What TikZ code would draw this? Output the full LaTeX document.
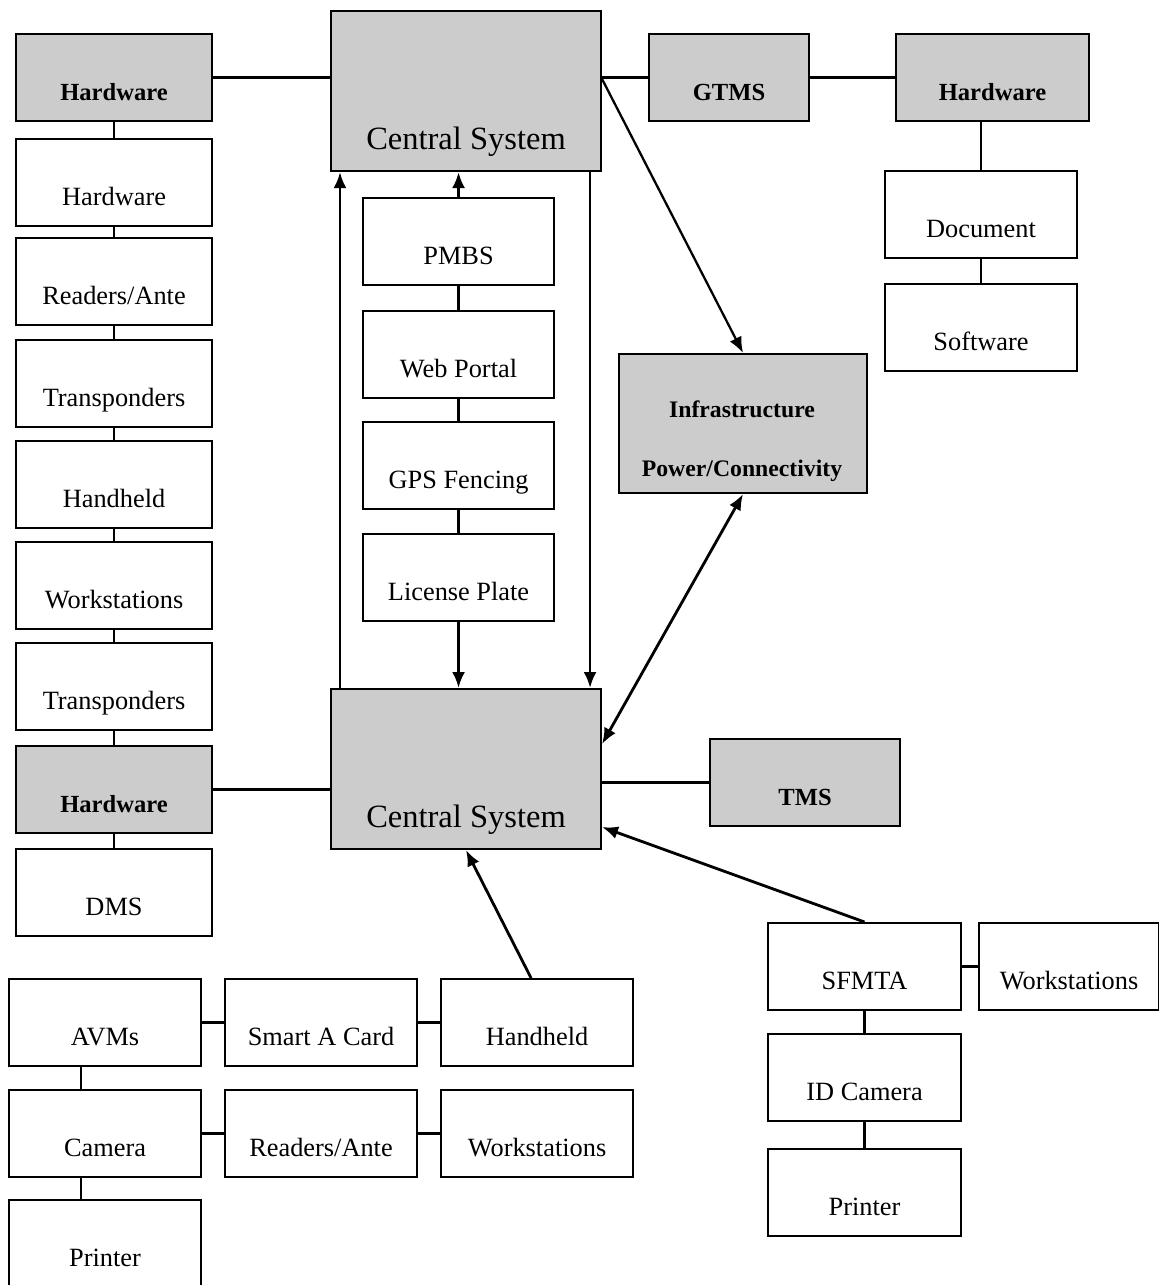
\documentclass[tikz,border=0pt]{standalone}
\usepackage{fontspec}
\setmainfont{Liberation Serif}
\usetikzlibrary{arrows.meta}

\begin{document}
\begin{tikzpicture}[x=0.02cm, y=-0.02cm]
  \tikzstyle{box}=[draw, line width=1.2pt, fill=white, anchor=north west, inner sep=0pt, text height=1.32cm, text depth=0.42cm, font=\fontsize{15}{18}\selectfont]
  \tikzstyle{grey}=[fill=black!20, font=\fontsize{14}{17}\selectfont\bfseries]
  \tikzstyle{big}=[fill=black!20, minimum width=5.4cm, text height=2.76cm, text depth=0.44cm, font=\fontsize{18.5}{21}\selectfont]
  \tikzstyle{link}=[draw, line width=1.3pt]
  \tikzstyle{flow}=[line width=1.6pt, -{Latex[length=0.32cm, width=0.26cm]}]

  \useasboundingbox (0,0) rectangle (1159,1285);

  % left column
  \node[box, grey, minimum width=3.92cm] (hw1)  at (15,33)  {Hardware};
  \node[box, minimum width=3.92cm]       (hw2)  at (15,138) {Hardware};
  \node[box, minimum width=3.92cm]       (rd1)  at (15,237) {Readers/Ante};
  \node[box, minimum width=3.92cm]       (tp1)  at (15,339) {Transponders};
  \node[box, minimum width=3.92cm]       (hh1)  at (15,440) {Handheld};
  \node[box, minimum width=3.92cm]       (ws1)  at (15,541) {Workstations};
  \node[box, minimum width=3.92cm]       (tp2)  at (15,642) {Transponders};
  \node[box, grey, minimum width=3.92cm] (hw3)  at (15,745) {Hardware};
  \node[box, minimum width=3.92cm]       (dms)  at (15,848) {DMS};

  % central systems
  \node[box, big] (csT) at (330,10)  {Central System};
  \node[box, big] (csB) at (330,688) {Central System};

  \node[box, minimum width=3.82cm] (pmbs) at (362,197) {PMBS};
  \node[box, minimum width=3.82cm] (web)  at (362,310) {Web Portal};
  \node[box, minimum width=3.82cm] (gps)  at (362,421) {GPS Fencing};
  \node[box, minimum width=3.82cm] (lic)  at (362,533) {License Plate};

  % right side
  \node[box, grey, minimum width=3.2cm]  (gtms) at (648,33)  {GTMS};
  \node[box, grey, minimum width=3.86cm] (hw4)  at (895,33)  {Hardware};
  \node[box, minimum width=3.84cm]       (doc)  at (884,170) {Document};
  \node[box, minimum width=3.84cm]       (soft) at (884,283) {Software};

  \node[box, grey, minimum width=4.96cm, text height=2.78cm, text depth=0cm] (infra) at (618,353) {};
  \node[anchor=base, font=\fontsize{13.5}{16}\selectfont\bfseries] (infra1) at (742,417) {Infrastructure};
  \node[anchor=base, font=\fontsize{13.5}{16}\selectfont\bfseries] (infra2) at (742,476) {Power/Connectivity};

  \node[box, grey, minimum width=3.8cm] (tms) at (709,738) {TMS};

  \node[box, minimum width=3.86cm] (sfmta) at (767,922)  {SFMTA};
  \node[box, minimum width=3.6cm]  (ws3)   at (978,922)  {Workstations};
  \node[box, minimum width=3.86cm] (idcam) at (767,1033) {ID Camera};
  \node[box, minimum width=3.86cm] (prn2)  at (767,1148) {Printer};

  % bottom left
  \node[box, minimum width=3.84cm] (avm)   at (8,978)    {AVMs};
  \node[box, minimum width=3.84cm] (smart) at (224,978)  {Smart A Card};
  \node[box, minimum width=3.84cm] (hh2)   at (440,978)  {Handheld};
  \node[box, minimum width=3.84cm] (cam)   at (8,1089)   {Camera};
  \node[box, minimum width=3.84cm] (rd2)   at (224,1089) {Readers/Ante};
  \node[box, minimum width=3.84cm] (ws2)   at (440,1089) {Workstations};
  \node[box, minimum width=3.84cm] (prn1)  at (8,1199)   {Printer};

  % plain links
  \path (hw1) edge[link] (hw2);
  \path (hw2) edge[link] (rd1);
  \path (rd1) edge[link] (tp1);
  \path (tp1) edge[link] (hh1);
  \path (hh1) edge[link] (ws1);
  \path (ws1) edge[link] (tp2);
  \path (tp2) edge[link] (hw3);
  \path (hw3) edge[link] (dms);
  \draw[link] (hw1.east) -- (hw1.east -| csT.west);
  \draw[link] (hw3.east) -- (hw3.east -| csB.west);

  \path (pmbs) edge[link] (web);
  \path (web)  edge[link] (gps);
  \path (gps)  edge[link] (lic);

  \draw[link] (gtms.west) -- (gtms.west -| csT.east);
  \path (gtms) edge[link] (hw4);
  \draw[link] (doc.north) -- (doc.north |- hw4.south);
  \path (doc) edge[link] (soft);
  \draw[link] (tms.west) -- (tms.west -| csB.east);

  \path (sfmta) edge[link] (ws3);
  \path (sfmta) edge[link] (idcam);
  \path (idcam) edge[link] (prn2);

  \path (avm)   edge[link] (smart);
  \path (smart) edge[link] (hh2);
  \path (cam)   edge[link] (rd2);
  \path (rd2)   edge[link] (ws2);
  \draw[link] ([xshift=-0.48cm]avm.south) -- ([xshift=-0.48cm]cam.north);
  \draw[link] ([xshift=-0.48cm]cam.south) -- ([xshift=-0.48cm]prn1.north);

  % arrows
  \draw[flow] (pmbs.north) -- (pmbs.north |- csT.south);
  \draw[flow] (lic.south) -- (lic.south |- csB.north);
  \draw[flow] ([xshift=0.2cm]csB.north west) -- ([xshift=0.2cm]csT.south west);
  \draw[flow] ([xshift=-0.24cm]csT.south east) -- ([xshift=-0.24cm]csB.north east);
  \draw[flow, line width=1.3pt] ([yshift=0.24cm]csT.east) -- (infra.north);
  \draw[flow, {Latex[length=0.32cm, width=0.26cm]}-{Latex[length=0.32cm, width=0.26cm]}] (infra.south) -- ([yshift=0.5cm]csB.east);
  \draw[flow] (sfmta.north) -- ([yshift=0.46cm]csB.south east);
  \draw[flow] ([xshift=-0.12cm]hh2.north) -- (csB.south);
\end{tikzpicture}
\end{document}
